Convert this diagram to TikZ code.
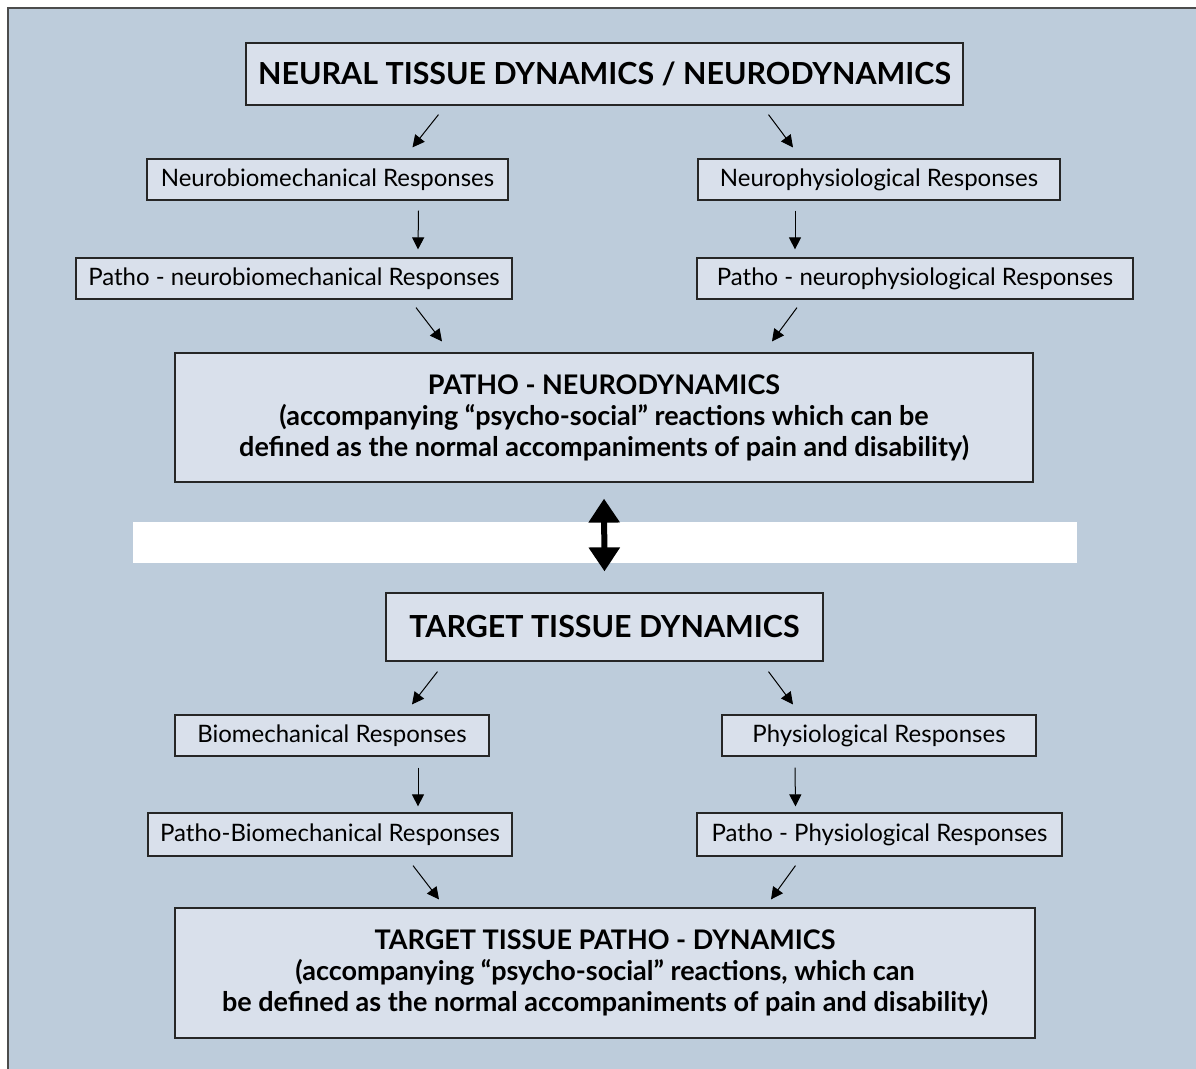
\documentclass[tikz,border=0pt]{standalone}
\usepackage{fontspec}
\setmainfont{Lato}
\usetikzlibrary{arrows.meta,calc,positioning}
\definecolor{panel}{HTML}{BDCCDB}
\definecolor{boxfill}{HTML}{D9E0EB}
\tikzset{
  resp/.style={draw=black!85,fill=boxfill,inner sep=0pt,line width=.6pt,font=\fontsize{12}{14}\selectfont},
  head/.style={resp,font=\fontsize{15.2}{17}\selectfont\bfseries},
  patho/.style={resp,align=center,font=\fontsize{13.5}{15.5}\selectfont\bfseries},
  arr/.style={-{Triangle[length=6pt,width=6pt]},line width=.5pt},
  bigarr/.style={{Triangle[length=12pt,width=15pt]}-{Triangle[length=12pt,width=15pt]},line width=3pt}
}
\begin{document}
\begin{tikzpicture}[x=.5pt,y=-.5pt]
\useasboundingbox (0,0) rectangle (1196,1069);
\draw[draw=black!70,line width=1pt,fill=panel] (8,8) rectangle (1220,1090);
\fill[white] (133,522) rectangle (1077,563);
% neural side
\node[head,minimum width=358.5pt,minimum height=31pt] (nd) at (604.5,74) {NEURAL TISSUE DYNAMICS / NEURODYNAMICS};
\node[resp,minimum width=180.5pt,minimum height=20.5pt] (nbm) at (327.5,179.5) {Neurobiomechanical Responses};
\node[resp,minimum width=181pt,minimum height=20.5pt] (nph) at (879,179.5) {Neurophysiological Responses};
\node[resp,minimum width=218pt,minimum height=20.5pt] (pnbm) at (294,278.5) {Patho - neurobiomechanical Responses};
\node[resp,minimum width=218pt,minimum height=20.5pt] (pnph) at (915,278.5) {Patho - neurophysiological Responses};
\node[patho,minimum width=429pt,minimum height=64.5pt] (pnd) at (604,417.5) {PATHO - NEURODYNAMICS\\(accompanying “psycho-social” reactions which can be\\defined as the normal accompaniments of pain and disability)};
% target side
\node[head,minimum width=218.5pt,minimum height=34pt] (ttd) at (604.5,627) {TARGET TISSUE DYNAMICS};
\node[resp,minimum width=157pt,minimum height=20.5pt] (bm) at (332,735.5) {Biomechanical Responses};
\node[resp,minimum width=157pt,minimum height=20.5pt] (ph) at (879,735.5) {Physiological Responses};
\node[resp,minimum width=182pt,minimum height=21.5pt] (pbm) at (330,834.5) {Patho-Biomechanical Responses};
\node[resp,minimum width=182.5pt,minimum height=21.5pt] (pph) at (879.5,834.5) {Patho - Physiological Responses};
\node[patho,minimum width=430pt,minimum height=65pt] (ttpd) at (605,973) {TARGET TISSUE PATHO - DYNAMICS\\(accompanying “psycho-social” reactions, which can\\be defined as the normal accompaniments of pain and disability)};
% arrows
\draw[arr] ($(nd.south)+(-166,9)$) -- ($(nbm.north)+(85,-11)$);
\draw[arr] ($(nd.south)+(164,9)$) -- ($(nph.north)+(-86,-11)$);
\draw[arr] ($(nbm.south)+(91,10)$) -- ($(pnbm.north)+(124,-8)$);
\draw[arr] ($(nph.south)+(-84,10)$) -- ($(pnph.north)+(-120,-8)$);
\draw[arr] ($(pnbm.south)+(122,8)$) -- ($(pnd.north)+(-162,-11)$);
\draw[arr] ($(pnph.south)+(-118,8)$) -- ($(pnd.north)+(168,-11)$);
\draw[bigarr] ($(pnd.south)+(0,16)$) -- ($(ttd.north)+(0,-21)$);
\draw[arr] ($(ttd.south)+(-167,10)$) -- ($(bm.north)+(80,-10)$);
\draw[arr] ($(ttd.south)+(164,10)$) -- ($(ph.north)+(-86,-10)$);
\draw[arr] ($(bm.south)+(86,11)$) -- ($(pbm.north)+(88,-6)$);
\draw[arr] ($(ph.south)+(-84,11)$) -- ($(pph.north)+(-84,-6)$);
\draw[arr] ($(pbm.south)+(83,9)$) -- ($(ttpd.north)+(-166,-8)$);
\draw[arr] ($(pph.south)+(-84,9)$) -- ($(ttpd.north)+(166,-8)$);
\end{tikzpicture}
\end{document}
